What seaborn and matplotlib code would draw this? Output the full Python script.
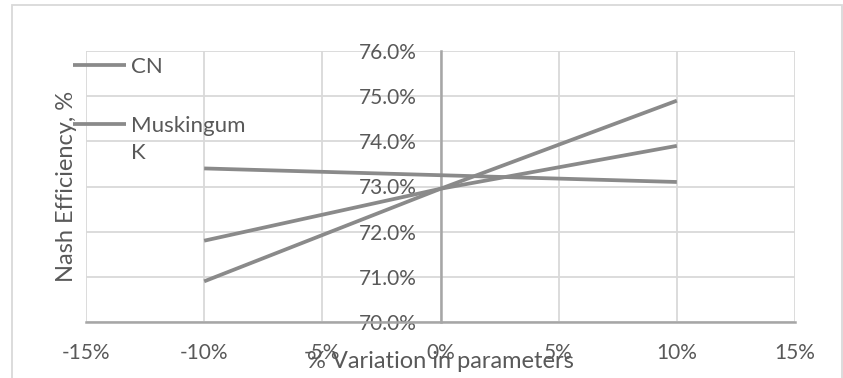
import numpy as np
import pandas as pd
import matplotlib
matplotlib.use("Agg")
import matplotlib.pyplot as plt
import seaborn as sns
from matplotlib.patches import Rectangle
from matplotlib.legend_handler import HandlerLine2D
from matplotlib.ticker import FuncFormatter

# Sensitivity of Nash efficiency to parameter changes
variation = [-10, 0, 10]                      # % change applied to the parameter
cn_eff = [70.9, 72.95, 74.9]                  # Curve Number
muskingum_k_eff = [71.8, 72.95, 73.9]         # Muskingum K
muskingum_x_eff = [73.4, 73.25, 73.1]         # Muskingum X
series_names = ["CN", "Muskingum K", "Muskingum X"]
legend_labels = ["CN", "Muskingum\nK"]
x_ticks = [-15, -10, -5, 0, 5, 10, 15]
y_ticks = [70, 71, 72, 73, 74, 75, 76]

df = pd.DataFrame({
    "variation": variation * 3,
    "efficiency": cn_eff + muskingum_k_eff + muskingum_x_eff,
    "parameter": np.repeat(series_names, len(variation)),
})

sns.set_theme(style="white")
plt.rcParams["font.family"] = ["Lato", "DejaVu Sans"]

TEXT = "#595959"
LINE = "#8a8a8a"
GRID = "#d9d9d9"
AXIS = "#a6a6a6"
FS = 15
FS_TITLE = 17
FS_LEG = 16

fig = plt.figure(figsize=(8.43, 3.78), dpi=100)
ax = fig.add_axes([86 / 843, 1 - 322 / 378, (795 - 86) / 843, (322 - 51) / 378])

sns.lineplot(data=df, x="variation", y="efficiency", hue="parameter",
             hue_order=series_names, palette=[LINE] * 3, linewidth=2.7,
             legend=False, sort=False, errorbar=None, ax=ax)
for ln in ax.lines:
    ln.set_solid_capstyle("butt")

ax.set_xlim(x_ticks[0], x_ticks[-1])
ax.set_ylim(y_ticks[0], y_ticks[-1])
ax.set_xticks(x_ticks)
ax.set_yticks(y_ticks)
ax.xaxis.set_major_formatter(FuncFormatter(lambda v, p: f"{v:.0f}%"))
ax.yaxis.set_major_formatter(FuncFormatter(lambda v, p: f"{v:.1f}%"))

ax.grid(True, color=GRID, linewidth=1.3)
ax.set_axisbelow(True)
for side in ("top", "right"):
    ax.spines[side].set_visible(False)
ax.spines["left"].set_position(("data", 0))
for side in ("left", "bottom"):
    ax.spines[side].set_color(AXIS)
    ax.spines[side].set_linewidth(1.8)
    ax.spines[side].set_zorder(1.5)

ax.tick_params(axis="both", length=0, labelsize=FS, labelcolor=TEXT)
ax.tick_params(axis="y", pad=17)
ax.tick_params(axis="x", pad=15)

ax.set_xlabel("% Variation in parameters", fontsize=FS_TITLE, color=TEXT, va="center")
ax.xaxis.set_label_coords(0.5, -0.145)
ax.set_ylabel("Nash Efficiency, %", fontsize=FS_TITLE, color=TEXT, va="center")
ax.yaxis.set_label_coords(-0.028, 0.5)


class FirstLineHandler(HandlerLine2D):
    """Places the legend line level with the first line of a wrapped label."""

    def __init__(self, shift, **kw):
        super().__init__(**kw)
        self.shift = shift

    def create_artists(self, legend, orig_handle, xdescent, ydescent,
                       width, height, fontsize, trans):
        arts = super().create_artists(legend, orig_handle, xdescent, ydescent,
                                      width, height, fontsize, trans)
        for a in arts:
            a.set_ydata(np.asarray(a.get_ydata()) + self.shift)
        return arts


LSP = 1.45
h_cn, h_k = ax.lines[0], ax.lines[1]
leg = ax.legend(handles=[h_cn, h_k], labels=legend_labels,
                handler_map={h_k: FirstLineHandler(0.5 * LSP * FS_LEG)},
                loc="upper left", bbox_to_anchor=(73 / 843, 1 - 57 / 378),
                bbox_transform=fig.transFigure, frameon=False, borderpad=0,
                borderaxespad=0, handlelength=2.4, handletextpad=0.2,
                labelspacing=1.75, fontsize=FS_LEG, labelcolor=TEXT)
for t in leg.get_texts():
    t.set_linespacing(LSP)

# chart border
fig.add_artist(Rectangle((12 / 843, -0.1), (842 - 12) / 843, 1.1 - 5 / 378,
                         transform=fig.transFigure, fill=False,
                         edgecolor=GRID, linewidth=1.3))

fig.savefig("out.png", dpi=100)
